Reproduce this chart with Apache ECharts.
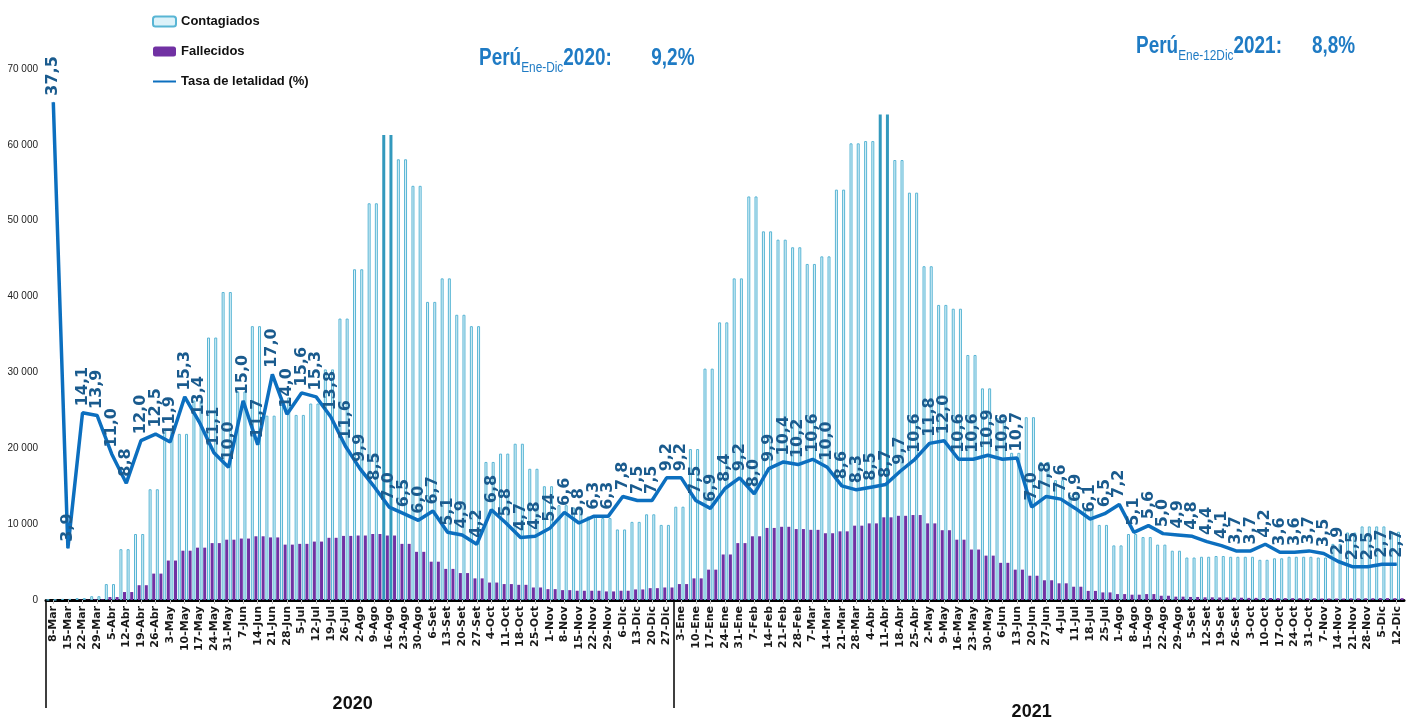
<!DOCTYPE html>
<html>
<head>
<meta charset="utf-8">
<title>Perú: contagiados, fallecidos y tasa de letalidad</title>
<script src="https://cdn.jsdelivr.net/npm/echarts@6/dist/echarts.min.js"></script>
<style>
  html, body { margin: 0; padding: 0; background: #fff; }
  #chart { width: 1406px; height: 721px; }
</style>
</head>
<body>
<div id="chart"></div>
<script>
// semanas epidemiologicas
const weeks2020 = ['8-Mar', '15-Mar', '22-Mar', '29-Mar', '5-Abr', '12-Abr', '19-Abr', '26-Abr',
  '3-May', '10-May', '17-May', '24-May', '31-May', '7-Jun', '14-Jun', '21-Jun', '28-Jun',
  '5-Jul', '12-Jul', '19-Jul', '26-Jul', '2-Ago', '9-Ago', '16-Ago', '23-Ago', '30-Ago',
  '6-Set', '13-Set', '20-Set', '27-Set', '4-Oct', '11-Oct', '18-Oct', '25-Oct',
  '1-Nov', '8-Nov', '15-Nov', '22-Nov', '29-Nov', '6-Dic', '13-Dic', '20-Dic', '27-Dic']
const weeks2021 = ['3-Ene', '10-Ene', '17-Ene', '24-Ene', '31-Ene', '7-Feb', '14-Feb', '21-Feb', '28-Feb',
  '7-Mar', '14-Mar', '21-Mar', '28-Mar', '4-Abr', '11-Abr', '18-Abr', '25-Abr',
  '2-May', '9-May', '16-May', '23-May', '30-May', '6-Jun', '13-Jun', '20-Jun', '27-Jun',
  '4-Jul', '11-Jul', '18-Jul', '25-Jul', '1-Ago', '8-Ago', '15-Ago', '22-Ago', '29-Ago',
  '5-Set', '12-Set', '19-Set', '26-Set', '3-Oct', '10-Oct', '17-Oct', '24-Oct', '31-Oct',
  '7-Nov', '14-Nov', '21-Nov', '28-Nov', '5-Dic', '12-Dic']

const contagiados2020 = [40, 150, 250, 500, 2100, 6700, 8700, 14600, 22400, 21900,
  26300, 34600, 40600, 27500, 36100, 24300, 26700, 24400, 25900, 30400,
  37100, 43600, 52300, 61300, 58100, 54600, 39300, 42400, 37600, 36100,
  18200, 19300, 20600, 17300, 15000, 12500, 12200, 11000, 10800, 9300,
  10300, 11300, 9900]
const contagiados2021 = [12300, 19900, 30500, 36600, 42400, 53200, 48600, 47500, 46500, 44300,
  45300, 54100, 60200, 60500, 64000, 58000, 53700, 44000, 38900, 38400,
  32300, 27900, 24000, 19400, 24100, 18200, 15800, 13800, 11900, 9900,
  7200, 8700, 8300, 7300, 6500, 5600, 5700, 5800, 5700, 5700,
  5300, 5500, 5700, 5700, 5600, 7400, 8900, 9700, 9700, 9000]

const fallecidos2020 = [0, 10, 30, 80, 390, 1050, 1950, 3480, 5200, 6500,
  6900, 7500, 7950, 8100, 8400, 8250, 7300, 7400, 7700, 8200,
  8450, 8500, 8700, 8500, 7400, 6350, 5050, 4100, 3550, 2850,
  2300, 2100, 2000, 1650, 1430, 1300, 1220, 1220, 1130, 1220,
  1390, 1560, 1650]
const fallecidos2021 = [2100, 2850, 4000, 6000, 7500, 8400, 9500, 9650, 9350, 9250,
  8800, 9050, 9800, 10100, 10900, 11100, 11200, 10100, 9200, 7950,
  6650, 5850, 4900, 4000, 3200, 2600, 2200, 1750, 1200, 1000,
  780, 700, 780, 560, 440, 400, 350, 330, 300, 280,
  260, 250, 240, 230, 200, 200, 220, 230, 250, 240]

// tasa de letalidad (%)
const tasa2020 = [37.5, 3.9, 14.1, 13.9, 11.0, 8.8, 12.0, 12.5, 11.9, 15.3,
  13.4, 11.1, 10.0, 15.0, 11.7, 17.0, 14.0, 15.6, 15.3, 13.8,
  11.6, 9.9, 8.5, 7.0, 6.5, 6.0, 6.7, 5.1, 4.9, 4.2,
  6.8, 5.8, 4.7, 4.8, 5.4, 6.6, 5.8, 6.3, 6.3, 7.8,
  7.5, 7.5, 9.2]
const tasa2021 = [9.2, 7.5, 6.9, 8.4, 9.2, 8.0, 9.9, 10.4, 10.2, 10.6,
  10.0, 8.6, 8.3, 8.5, 8.7, 9.7, 10.6, 11.8, 12.0, 10.6,
  10.6, 10.9, 10.6, 10.7, 7.0, 7.8, 7.6, 6.9, 6.1, 6.5,
  7.2, 5.1, 5.6, 5.0, 4.9, 4.8, 4.4, 4.1, 3.7, 3.7,
  4.2, 3.6, 3.6, 3.7, 3.5, 2.9, 2.5, 2.5, 2.7, 2.7]

const yearLabels = ['2020', '2021']
const tasaAnual = ['9,2%', '8,8%']
// semanas pico, con la barra marcada en el original
const picos = ['16-Ago', '11-Abr']

const weeks = weeks2020.concat(weeks2021)
const contagiados = contagiados2020.concat(contagiados2021)
const fallecidos = fallecidos2020.concat(fallecidos2021)
const tasa = tasa2020.concat(tasa2021)

const narrow = '"Liberation Sans Narrow", "Arial Narrow", "Liberation Sans", sans-serif'
// mitad de cada año, en unidades de semana (la semana i ocupa [i, i+1])
const yearMid = [weeks2020.length / 2 - 0.5, weeks2020.length + weeks2021.length / 2 - 0.5]

const fmtMiles = (v) => String(v).replace(/\B(?=(\d{3})+(?!\d))/g, ' ')
const fmtComa = (v) => v.toFixed(1).replace('.', ',')

const contStyle = { color: '#ddf2f9', borderColor: '#58b5d4', borderWidth: 1 }
const picoStyle = { color: '#7fc9e2', borderColor: '#3399bd', borderWidth: 1.5 }
const fallStyle = { color: '#7131a3' }

const contData = contagiados.map((v, i) => (picos.indexOf(weeks[i]) >= 0 ? { value: v, itemStyle: picoStyle } : v))

// cada semana se dibuja con dos barras de contagiados y dos de fallecidos, como en el original
const barSerie = (name, data, style) => ({
  name, type: 'bar', data, barWidth: 3, barGap: '20%', itemStyle: style,
  emphasis: { disabled: true }
})

const titleRich = {
  a: { fontSize: 24, fontWeight: 'bold', fill: '#1f7bc4', fontFamily: narrow, lineHeight: 27, verticalAlign: 'top' },
  b: { fontSize: 15, fill: '#1f7bc4', fontFamily: narrow, lineHeight: 15, verticalAlign: 'top', padding: [14, 0, 0, 0] },
  s: { width: 50 },
  t: { width: 38 }
}
const titleText = (x, y, text) => ({
  type: 'text', x, y, scaleX: 0.79, silent: true,
  style: { text, rich: titleRich, align: 'left', verticalAlign: 'top' }
})

const chart = echarts.init(document.getElementById('chart'))
chart.setOption({
  animation: false,
  backgroundColor: '#fff',
  graphic: [
    titleText(479, 46, '{a|Perú}{b|Ene-Dic}{a|' + yearLabels[0] + ':}{s|}{a|' + tasaAnual[0] + '}'),
    titleText(1136, 34, '{a|Perú}{b|Ene-12Dic}{a|' + yearLabels[1] + ':}{t|}{a|' + tasaAnual[1] + '}')
  ],
  legend: {
    orient: 'vertical', left: 147, top: 10, itemWidth: 23, itemHeight: 10, itemGap: 17,
    textStyle: { fontSize: 13, fontWeight: 'bold', color: '#111', fontFamily: narrow },
    data: ['Contagiados', 'Fallecidos', { name: 'Tasa de letalidad (%)', itemStyle: { opacity: 0 } }]
  },
  grid: { left: 46, right: 2, top: 69, bottom: 114 },
  xAxis: [
    {
      type: 'category', data: weeks,
      axisLine: { lineStyle: { color: '#000', width: 3 } },
      axisTick: { show: true, length: 4, alignWithLabel: true, lineStyle: { color: '#bbb' } },
      axisLabel: { interval: 0, rotate: 90, margin: 6, fontSize: 11, fontWeight: 'bold', color: '#1a1a1a', fontFamily: 'DejaVu Sans' }
    },
    {
      // separadores y etiquetas de año
      type: 'value', min: 0, max: weeks.length, position: 'bottom',
      splitLine: { show: false }, axisLine: { show: false },
      axisTick: { show: true, length: 108, customValues: [0, weeks2020.length], lineStyle: { color: '#000', width: 1.5 } },
      axisLabel: {
        customValues: yearMid,
        margin: 95,
        formatter: (v) => (v === yearMid[0] ? '{a|' + yearLabels[0] + '}' : '{b|' + yearLabels[1] + '}'),
        rich: {
          a: { fontSize: 18, fontWeight: 'bold', color: '#111', fontFamily: narrow },
          b: { fontSize: 18, fontWeight: 'bold', color: '#111', fontFamily: narrow, padding: [8, 0, 0, 0] }
        }
      }
    }
  ],
  yAxis: [
    {
      type: 'value', min: 0, max: 70000, interval: 10000,
      splitLine: { show: false }, axisLine: { show: false }, axisTick: { show: false },
      axisLabel: { formatter: fmtMiles, fontSize: 10, color: '#222', fontFamily: narrow, margin: 8 }
    },
    { type: 'value', min: 0, max: 40, show: false, splitLine: { show: false } }
  ],
  series: [
    barSerie('Contagiados', contData, contStyle),
    barSerie('Fallecidos', fallecidos, fallStyle),
    barSerie('Contagiados', contData, contStyle),
    barSerie('Fallecidos', fallecidos, fallStyle),
    {
      name: 'Tasa de letalidad (%)', type: 'line', yAxisIndex: 1, data: tasa,
      symbol: 'circle', symbolSize: 1, showSymbol: true, z: 5,
      lineStyle: { color: '#0c6fbf', width: 3.5 },
      itemStyle: { color: '#0c6fbf' },
      label: {
        show: true, position: 'top', distance: 6, rotate: 90, align: 'left', verticalAlign: 'middle',
        formatter: (p) => fmtComa(p.value),
        fontSize: 16, fontWeight: 'bold', color: '#1a5b8e', fontFamily: 'DejaVu Sans'
      },
      labelLayout: { hideOverlap: false },
      emphasis: { disabled: true }
    }
  ]
})
</script>
</body>
</html>
